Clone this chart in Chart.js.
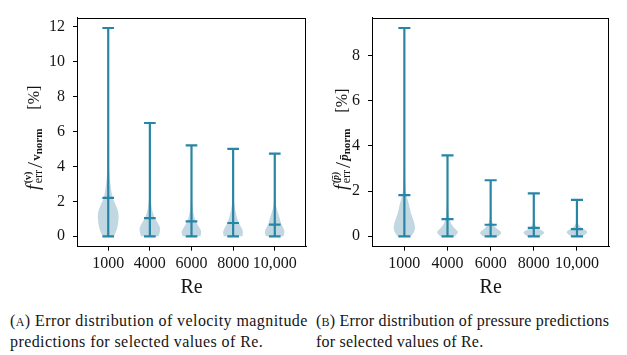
<!DOCTYPE html>
<html><head><meta charset="utf-8">
<script src="https://cdn.jsdelivr.net/npm/chart.js@4/dist/chart.umd.min.js"></script>
<style>
html,body{margin:0;padding:0;background:#fff;}
body{width:627px;height:355px;position:relative;overflow:hidden;font-family:'Liberation Serif',serif;color:#111;}
.cv{position:absolute;top:0;}
.cap{position:absolute;top:311px;font-size:16px;line-height:20px;letter-spacing:0.42px;white-space:nowrap;color:#151515;}
.sc{font-size:12px;}
</style></head><body>
<canvas id="c1" class="cv" width="313" height="300" style="left:0"></canvas>
<canvas id="c2" class="cv" width="314" height="300" style="left:313px"></canvas>
<div class="cap" style="left:10px">(<span class="sc">A</span>) Error distribution of velocity magnitude<br>predictions for selected values of Re.</div>
<div class="cap" style="left:316px;letter-spacing:0.2px">(<span class="sc">B</span>) Error distribution of pressure predictions<br>for selected values of Re.</div>
<script>
// ---------- data ----------
const categories = ['1000', '4000', '6000', '8000', '10,000'];

const velMin  = [0, 0, 0, 0, 0];
const velMax  = [11.93, 6.49, 5.21, 5.01, 4.74];
const velMean = [2.20, 1.04, 0.85, 0.76, 0.67];
const velTicks = [0, 2, 4, 6, 8, 10, 12];

const presMin  = [0, 0, 0, 0, 0];
const presMax  = [9.22, 3.58, 2.48, 1.90, 1.61];
const presMean = [1.82, 0.76, 0.51, 0.37, 0.32];
const presTicks = [0, 2, 4, 6, 8];

// violin outlines: relative half-width at each error level
const velLevels = [0, 0.25, 0.5, 0.75, 1.0, 1.25, 1.5, 1.75, 2.0, 2.25, 2.5, 3.0, 3.5, 4.0, 5.0, 6.0, 8.0, 10.0];
const velShape1000  = [0.55, 0.75, 0.87, 0.95, 0.99, 1.0, 0.92, 0.75, 0.55, 0.40, 0.32, 0.20, 0.12, 0.07, 0.04, 0.03, 0.015, 0.008];
const velShape4000  = [0.85, 0.97, 1.0, 0.78, 0.50, 0.33, 0.22, 0.15, 0.10, 0.08, 0.06, 0.04, 0.03, 0.025, 0.015, 0.008, 0, 0];
const velShape6000  = [0.85, 1.0, 0.75, 0.50, 0.32, 0.20, 0.14, 0.10, 0.07, 0.05, 0.04, 0.03, 0.02, 0.015, 0.008, 0, 0, 0];
const velShape8000  = [0.90, 1.0, 0.80, 0.55, 0.40, 0.30, 0.20, 0.13, 0.09, 0.07, 0.05, 0.03, 0.02, 0.015, 0.008, 0, 0, 0];
const velShape10000 = [0.85, 1.0, 0.80, 0.58, 0.50, 0.35, 0.22, 0.13, 0.08, 0.06, 0.05, 0.03, 0.02, 0.015, 0, 0, 0, 0];

const presLevels = [0, 0.1, 0.2, 0.3, 0.4, 0.6, 0.8, 1.0, 1.2, 1.4, 1.6, 1.8, 2.0, 2.5, 3, 4, 5, 6, 8];
const presShape1000  = [0.60, 0.78, 0.90, 0.97, 1.0, 0.92, 0.78, 0.62, 0.52, 0.44, 0.32, 0.20, 0.13, 0.06, 0.04, 0.02, 0.012, 0.008, 0.004];
const presShape4000  = [0.65, 0.88, 1.0, 0.80, 0.55, 0.28, 0.17, 0.11, 0.08, 0.06, 0.04, 0.03, 0.025, 0.015, 0.01, 0.006, 0, 0, 0];
const presShape6000  = [0.70, 0.95, 1.0, 0.70, 0.42, 0.15, 0.08, 0.05, 0.04, 0.03, 0.025, 0.02, 0.015, 0.01, 0.008, 0, 0, 0, 0];
const presShape8000  = [0.55, 0.90, 1.0, 0.60, 0.25, 0.07, 0.04, 0.03, 0.02, 0.015, 0.01, 0.008, 0, 0, 0, 0, 0, 0, 0];
const presShape10000 = [0.50, 0.85, 1.0, 0.75, 0.30, 0.06, 0.03, 0.02, 0.015, 0.01, 0.008, 0, 0, 0, 0, 0, 0, 0, 0];

// ---------- styling ----------
const LINE = '#2885a6';
const FILL = 'rgba(126,172,192,0.48)';
const TXT = '#151515';
const SERIF = "'Liberation Serif', serif";
Chart.defaults.font.family = SERIF;
Chart.defaults.font.size = 16;
Chart.defaults.color = TXT;

const VIOLIN_HALF = 0.25;
const CAP_HALF = 0.14;

function whiskerData(mins, maxs, means) {
  const pts = [];
  categories.forEach((c, i) => {
    const x = i + 1;
    pts.push({x: x, y: mins[i]}, {x: x, y: maxs[i]}, {x: x, y: null});
    [mins[i], maxs[i], means[i]].forEach(v => {
      pts.push({x: x - CAP_HALF, y: v}, {x: x + CAP_HALF, y: v}, {x: x, y: null});
    });
  });
  return pts;
}

function smoothSide(ctx, pts, first) {
  if (first) ctx.moveTo(pts[0][0], pts[0][1]); else ctx.lineTo(pts[0][0], pts[0][1]);
  for (let k = 1; k < pts.length - 1; k++) {
    const mx = (pts[k][0] + pts[k + 1][0]) / 2, my = (pts[k][1] + pts[k + 1][1]) / 2;
    ctx.quadraticCurveTo(pts[k][0], pts[k][1], mx, my);
  }
  const l = pts[pts.length - 1];
  ctx.lineTo(l[0], l[1]);
}

function makeViolinPlugin(levels, shapes, mins, maxs) {
  return {
    id: 'violins',
    beforeDatasetsDraw(chart) {
      const xs = chart.scales.x, ys = chart.scales.y, ctx = chart.ctx;
      ctx.save();
      ctx.fillStyle = FILL;
      shapes.forEach((shape, i) => {
        const c = i + 1;
        const prof = [];
        levels.forEach((lv, j) => { if (lv >= mins[i] && lv < maxs[i]) prof.push([lv, shape[j]]); });
        prof.push([maxs[i], 0]);
        const right = prof.map(p => [xs.getPixelForValue(c + p[1] * VIOLIN_HALF), ys.getPixelForValue(p[0])]);
        const left = prof.slice().reverse().map(p => [xs.getPixelForValue(c - p[1] * VIOLIN_HALF), ys.getPixelForValue(p[0])]);
        ctx.beginPath();
        smoothSide(ctx, right, true);
        smoothSide(ctx, left, false);
        ctx.closePath();
        ctx.fill();
      });
      ctx.restore();
    }
  };
}

function makeLabelPlugin(bx, startY, pieces) {
  return {
    id: 'ylab',
    afterDraw(chart) {
      const ctx = chart.ctx;
      ctx.save();
      ctx.translate(bx, startY);
      ctx.rotate(-Math.PI / 2);
      ctx.fillStyle = TXT;
      ctx.textBaseline = 'alphabetic';
      let x = 0, maxX = 0;
      pieces.forEach(p => {
        if (p.gap) { x = Math.max(x, maxX) + p.gap; maxX = x; return; }
        ctx.font = p.f;
        ctx.fillText(p.t, x + (p.dx || 0), p.dy || 0);
        const end = x + (p.dx || 0) + ctx.measureText(p.t).width;
        if (p.stack) { maxX = Math.max(maxX, end); }
        else { x = Math.max(end, maxX); maxX = x; }
      });
      ctx.restore();
    }
  };
}

const framePlugin = {
  id: 'frame',
  afterDatasetsDraw(chart) {
    const a = chart.chartArea, ctx = chart.ctx;
    ctx.save();
    ctx.strokeStyle = '#000';
    ctx.lineWidth = 1;
    ctx.strokeRect(Math.round(a.left) + 0.5, Math.round(a.top) + 0.5, Math.round(a.right - a.left) - 1, Math.round(a.bottom - a.top) - 1);
    ctx.restore();
  }
};

function buildChart(id, cfg) {
  const lo = Math.min(...cfg.mins), hi = Math.max(...cfg.maxs);
  const pad = 0.05 * (hi - lo);
  return new Chart(document.getElementById(id), {
    type: 'line',
    data: {
      datasets: [{
        data: whiskerData(cfg.mins, cfg.maxs, cfg.means),
        borderColor: LINE,
        borderWidth: 2.2,
        borderCapStyle: 'butt',
        pointRadius: 0,
        spanGaps: false,
        tension: 0
      }]
    },
    options: {
      responsive: false,
      animation: false,
      devicePixelRatio: 1,
      events: [],
      layout: { padding: { left: 0, top: 9, right: cfg.padRight, bottom: 0 } },
      plugins: { legend: { display: false }, tooltip: { enabled: false } },
      scales: {
        x: {
          type: 'linear',
          min: 0.25, max: 5.75,
          afterBuildTicks: s => { s.ticks = categories.map((c, i) => ({ value: i + 1 })); },
          afterFit: s => { s.height = 53.3; },
          ticks: { callback: v => categories[Math.round(v) - 1], padding: 3, maxRotation: 0, autoSkip: false, font: { size: 16 } },
          grid: { drawOnChartArea: false, drawTicks: true, tickLength: 4, color: '#000', lineWidth: 1 },
          border: { display: true, color: '#000', width: 1 },
          title: { display: true, text: 'Re', font: { size: 20 }, padding: { top: 0, bottom: 0 } }
        },
        y: {
          type: 'linear',
          min: lo - pad, max: hi + pad,
          afterBuildTicks: s => { s.ticks = cfg.ticks.map(v => ({ value: v })); },
          afterFit: s => { s.width = cfg.yWidth; },
          ticks: { padding: 8, font: { size: 16 } },
          grid: { drawOnChartArea: false, drawTicks: true, tickLength: 4, color: '#000', lineWidth: 1 },
          border: { display: true, color: '#000', width: 1 }
        }
      }
    },
    plugins: [makeViolinPlugin(cfg.levels, cfg.shapes, cfg.mins, cfg.maxs), framePlugin, makeLabelPlugin(cfg.labX, 190, cfg.label)]
  });
}

buildChart('c1', {
  mins: velMin, maxs: velMax, means: velMean, ticks: velTicks,
  levels: velLevels, shapes: [velShape1000, velShape4000, velShape6000, velShape8000, velShape10000],
  yWidth: 77, padRight: 7, labX: 39,
  label: [
    { t: 'f', f: 'italic 19px ' + SERIF },
    { gap: 1.5 },
    { t: '(v)', f: 'bold 10px ' + SERIF, dy: -8, stack: true },
    { t: 'err', f: '12px ' + SERIF, dy: 3 },
    { gap: 2 },
    { t: '/', f: '22px ' + SERIF, dy: 3 },
    { gap: 1 },
    { t: 'v', f: 'bold 13px ' + SERIF, dy: 1 },
    { t: 'norm', f: 'bold 11px ' + SERIF, dy: 3 },
    { gap: 19 },
    { t: '[%]', f: '16px ' + SERIF }
  ]
});

buildChart('c2', {
  mins: presMin, maxs: presMax, means: presMean, ticks: presTicks,
  levels: presLevels, shapes: [presShape1000, presShape4000, presShape6000, presShape8000, presShape10000],
  yWidth: 59, padRight: 17.7, labX: 34,
  label: [
    { t: 'f', f: 'italic 19px ' + SERIF },
    { gap: 1.5 },
    { t: '(p\u0304)', f: 'bold italic 10px ' + SERIF, dy: -8, stack: true },
    { t: 'err', f: '12px ' + SERIF, dy: 3 },
    { gap: 2 },
    { t: '/', f: '22px ' + SERIF, dy: 3 },
    { gap: 1 },
    { t: 'p\u0304', f: 'bold italic 13px ' + SERIF, dy: 1 },
    { t: 'norm', f: 'bold 11px ' + SERIF, dy: 3 },
    { gap: 16 },
    { t: '[%]', f: '16px ' + SERIF }
  ]
});
</script>
</body></html>
